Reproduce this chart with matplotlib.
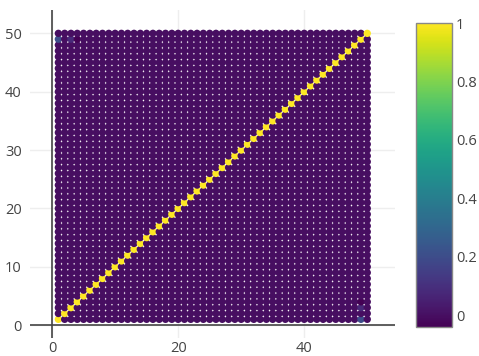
import numpy as np
import matplotlib
matplotlib.use('Agg')
import matplotlib.pyplot as plt

plt.rcParams['font.family'] = ['Open Sans', 'DejaVu Sans']

# grid of 1..50 x 1..50, value is 1 on the diagonal, ~0 elsewhere
xs = list(range(1, 51))
ys = list(range(1, 51))
diag_value = 1.0
off_value = 0.0
# a few off-diagonal cells that stand out (x, y, value)
extra = [(1, 49, 0.2), (49, 1, 0.2), (3, 49, 0.08), (49, 3, 0.08),
         (4, 49, -0.04), (49, 4, -0.04)]
cmin, cmax = -0.04, 1.0
xticks = [0, 20, 40]
yticks = [0, 10, 20, 30, 40, 50]
cbar_ticks = [0, 0.2, 0.4, 0.6, 0.8, 1]
cbar_labels = ['0', '0.2', '0.4', '0.6', '0.8', '1']

z = np.full((len(ys), len(xs)), off_value)
for i in range(len(xs)):
    z[i, i] = diag_value
for x, y, v in extra:
    z[y - 1, x - 1] = v

X, Y = np.meshgrid(xs, ys)

W, H = 479, 356
fig = plt.figure(figsize=(W / 100, H / 100), dpi=100)
ax = fig.add_axes([30 / W, 1 - 338 / H, (395 - 30) / W, (338 - 10) / H])

sc = ax.scatter(X.ravel(), Y.ravel(), c=z.ravel(), cmap='viridis',
                vmin=cmin, vmax=cmax, s=28, linewidths=0, zorder=3)

ax.set_xlim(-3.5, 54.4)
ax.set_ylim(-2.2, 54)
ax.set_xticks(xticks)
ax.set_yticks(yticks)
for s in ax.spines.values():
    s.set_visible(False)
ax.grid(True, color='#eeeeee', linewidth=1, zorder=0)
ax.axhline(0, color='#444444', linewidth=1.2, zorder=2)
ax.axvline(0, color='#444444', linewidth=1.2, zorder=2)
ax.tick_params(axis='y', length=0, labelsize=10.5, labelcolor='#444444', pad=6)
ax.tick_params(axis='x', length=0, labelsize=10.5, labelcolor='#444444', pad=2)

cax = fig.add_axes([416 / W, 1 - 327 / H, 36 / W, (327 - 23) / H])
cb = fig.colorbar(sc, cax=cax)
cb.set_ticks(cbar_ticks)
cb.set_ticklabels(cbar_labels)
cb.outline.set_edgecolor('#888888')
cb.outline.set_linewidth(1)
cax.tick_params(length=0, labelsize=10.5, labelcolor='#444444', pad=3)

fig.savefig('out.png', dpi=100)
